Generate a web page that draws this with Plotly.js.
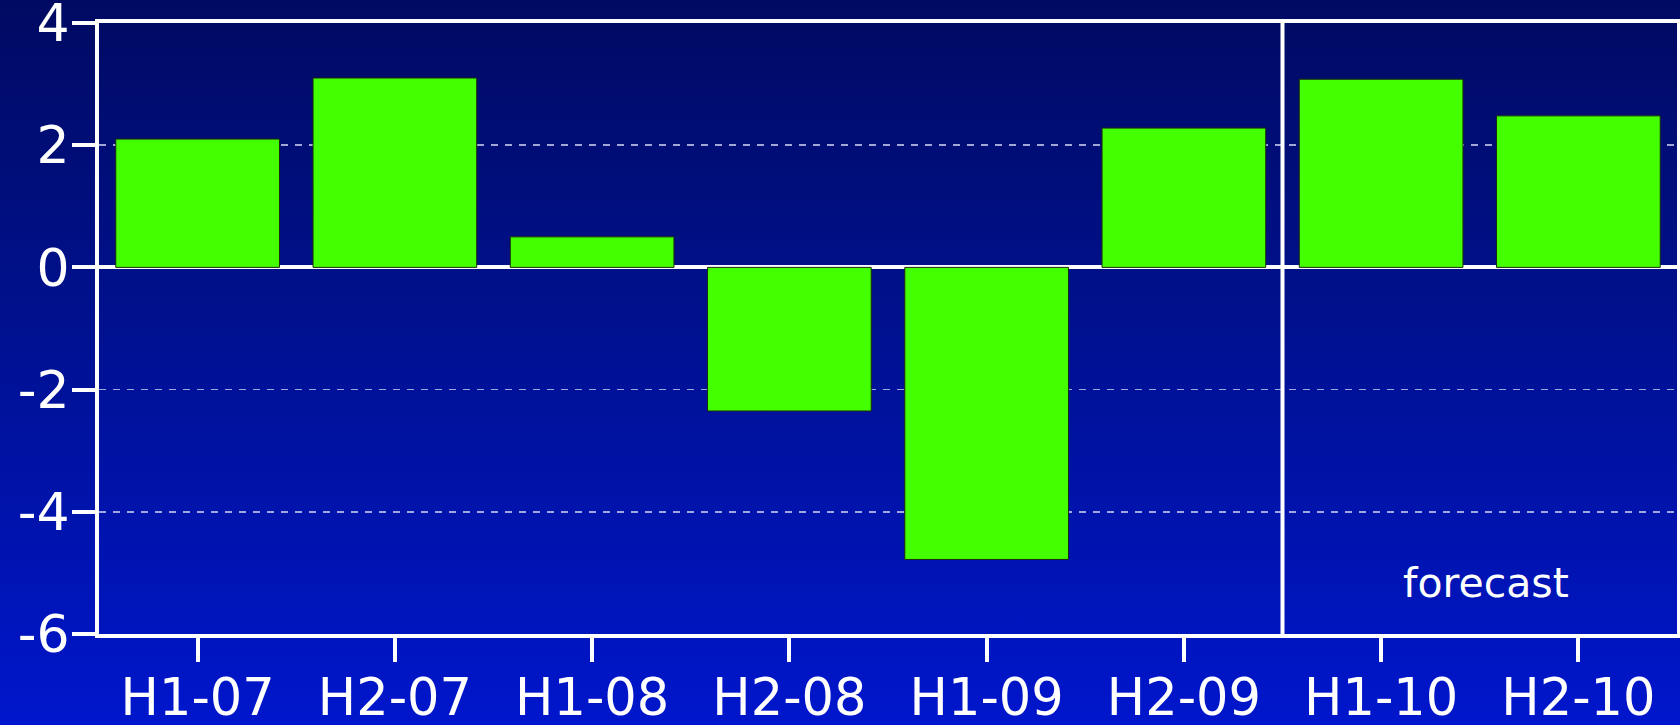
<!DOCTYPE html>
<html>
<head>
<meta charset="utf-8">
<script src="https://cdn.plot.ly/plotly-3.0.1.min.js"></script>
<style>
html,body{margin:0;padding:0;width:1680px;height:725px;overflow:hidden;}
body{background:linear-gradient(to bottom,#000a62 0%,#00108a 40%,#0016cc 100%);}
#chart{width:1680px;height:725px;}
</style>
</head>
<body>
<div id="chart"></div>
<script>
const categories = ["H1-07","H2-07","H1-08","H2-08","H1-09","H2-09","H1-10","H2-10"];
const values = [2.1, 3.1, 0.5, -2.35, -4.78, 2.28, 3.08, 2.48];
const yTickVals = [-6, -4, -2, 0, 2, 4];
const yTickText = ["-6", "-4", "-2", "0", "2", "4"];
const forecastLabel = "forecast";

const trace = {
  type: "bar",
  x: categories,
  y: values,
  width: 0.83,
  marker: {color: "#44ff00", line: {color: "#1a2a10", width: 1}},
  hoverinfo: "x+y"
};

const layout = {
  width: 1680, height: 725,
  margin: {l: 99, r: 3, t: 23, b: 91},
  paper_bgcolor: "rgba(0,0,0,0)",
  plot_bgcolor: "rgba(0,0,0,0)",
  showlegend: false,
  font: {family: "DejaVu Sans, Verdana, sans-serif", color: "#ffffff", size: 50},
  xaxis: {
    type: "category",
    range: [-0.5, 7.5],
    showline: true, linecolor: "#ffffff", linewidth: 4, mirror: true,
    ticks: "outside", ticklen: 24, tickwidth: 4, tickcolor: "#ffffff",
    showgrid: false, zeroline: false,
    ticklabeloverflow: "allow",
    ticklabelstandoff: -8,
    tickfont: {size: 51, color: "#ffffff"},
    fixedrange: true
  },
  yaxis: {
    range: [-6, 4],
    tickvals: yTickVals, ticktext: yTickText,
    showline: true, linecolor: "#ffffff", linewidth: 4, mirror: true,
    ticks: "outside", ticklen: 23, tickwidth: 4, tickcolor: "#ffffff",
    ticklabelstandoff: -8,
    ticklabeloverflow: "allow",
    showgrid: true, gridcolor: "rgba(200,205,240,0.8)", gridwidth: 1.5, griddash: "7px,7px",
    zeroline: true, zerolinecolor: "#ffffff", zerolinewidth: 4,
    tickfont: {size: 52, color: "#ffffff"},
    fixedrange: true
  },
  shapes: [{
    type: "line", xref: "x", yref: "paper",
    x0: 5.5, x1: 5.5, y0: 0, y1: 1,
    line: {color: "#ffffff", width: 4}
  }],
  annotations: [{
    xref: "x", yref: "y", x: 6.5, y: -5.17, xshift: 6,
    text: forecastLabel, showarrow: false,
    xanchor: "center", yanchor: "middle",
    font: {size: 41, color: "#ffffff", family: "DejaVu Sans, Verdana, sans-serif"}
  }]
};

Plotly.newPlot("chart", [trace], layout, {displayModeBar: false, staticPlot: true});
</script>
</body>
</html>
